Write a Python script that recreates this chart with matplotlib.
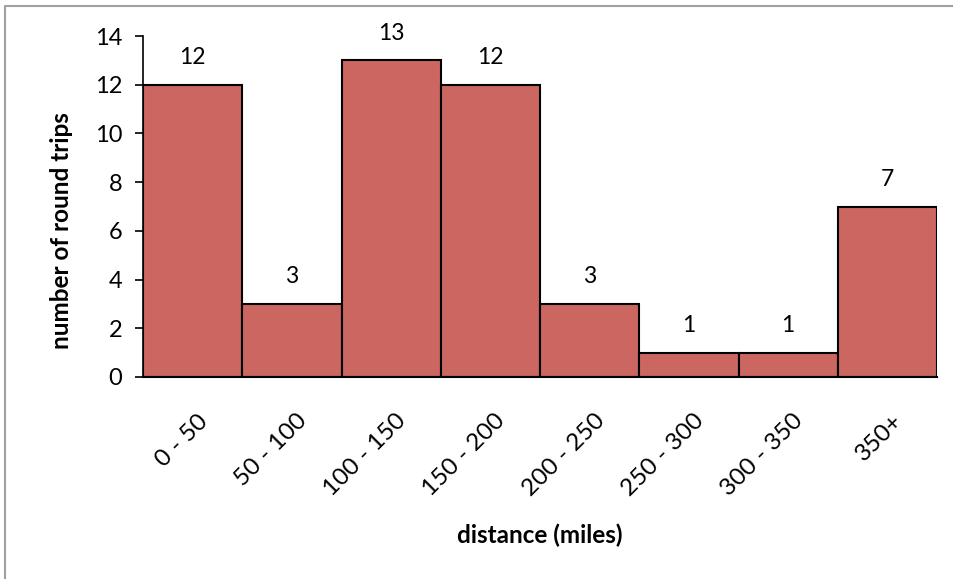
import matplotlib
matplotlib.use("Agg")
import matplotlib.pyplot as plt
import matplotlib.transforms as mtransforms
from matplotlib.lines import Line2D

plt.rcParams['font.family'] = ['Lato', 'DejaVu Sans']

categories = ["0 - 50", "50 - 100", "100 - 150", "150 - 200",
              "200 - 250", "250 - 300", "300 - 350", "350+"]
round_trips = [12, 3, 13, 12, 3, 1, 1, 7]
y_ticks = [0, 2, 4, 6, 8, 10, 12, 14]

fig = plt.figure(figsize=(9.54, 5.79), dpi=100)
ax = fig.add_axes([0.1499, 0.3489, 0.8323, 0.5889])

x = list(range(len(categories)))
bars = ax.bar(x, round_trips, width=1.0, color='#CC6660',
              edgecolor='black', linewidth=1.5, zorder=2)

for xi, v in zip(x, round_trips):
    ax.annotate(str(v), (xi, v), xytext=(0, 19.5), textcoords='offset points',
                ha='center', va='center', fontsize=16.5)

ax.set_xlim(-0.5, len(categories) - 0.5)
ax.set_ylim(0, 14)
ax.set_yticks(y_ticks)
ax.set_yticklabels([str(t) for t in y_ticks], fontsize=17)
ax.tick_params(axis='y', direction='out', length=6, width=1.2, pad=9)
ax.tick_params(axis='x', length=0, pad=24)

ax.set_xticks(x)
labels = ax.set_xticklabels(categories, rotation=45, ha='right', va='top',
                            rotation_mode='anchor', fontsize=17.5)
offset = mtransforms.ScaledTranslation(3 / 72, 0, fig.dpi_scale_trans)
for lbl in labels:
    lbl.set_transform(lbl.get_transform() + offset)

for side in ('top', 'right'):
    ax.spines[side].set_visible(False)
ax.spines['left'].set_linewidth(1.2)
ax.spines['bottom'].set_linewidth(1.5)

ax.set_ylabel('number of round trips', fontsize=17.5, fontweight='bold')
ax.yaxis.set_label_coords(-0.088, 0.428)
ax.set_xlabel('distance (miles)', fontsize=17.5, fontweight='bold')
ax.xaxis.set_label_coords(0.5, -0.431)

# chart frame (top and left edges)
fig.add_artist(Line2D([0.0048, 0.0048, 1.0], [0.0, 0.9905, 0.9905],
                      transform=fig.transFigure, color='#A0A0A0', linewidth=1.5))

fig.savefig('out.png', dpi=100)
